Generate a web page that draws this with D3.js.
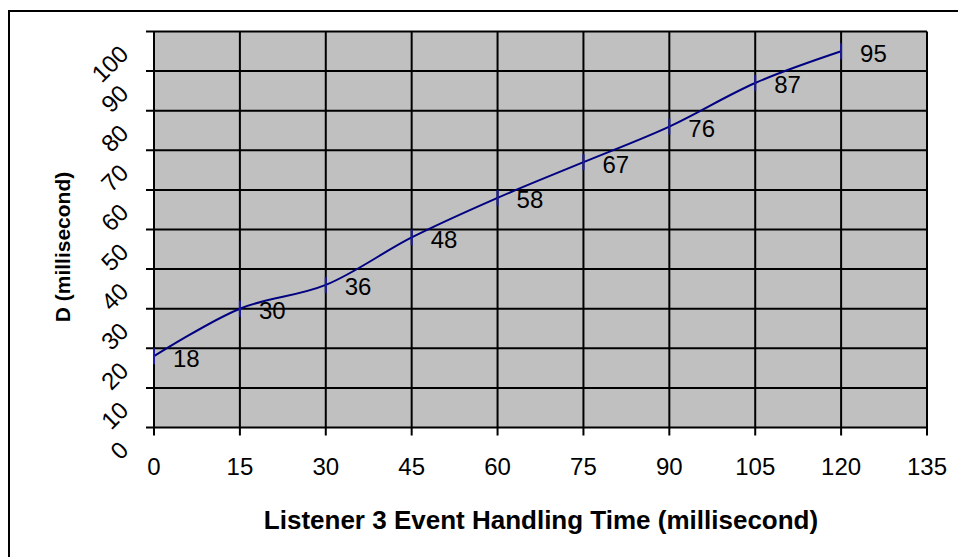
<!DOCTYPE html>
<html><head><meta charset="utf-8">
<script src="https://cdn.jsdelivr.net/npm/d3@7"></script>
<style>body{margin:0;background:#fff;}svg{display:block;font-family:"Liberation Sans",Arial,sans-serif;}</style>
</head><body>
<svg id="c" width="958" height="557"></svg>
<script>
const xValues = [0, 15, 30, 45, 60, 75, 90, 105, 120];
const yValues = [18, 30, 36, 48, 58, 67, 76, 87, 95];
const xTicks = [0, 15, 30, 45, 60, 75, 90, 105, 120, 135];
const yTicks = [0, 10, 20, 30, 40, 50, 60, 70, 80, 90, 100];
const xTitle = "Listener 3 Event Handling Time (millisecond)";
const yTitle = "D (millisecond)";

const svg = d3.select("#c");
const L = 154, R = 927, T = 31.5, B = 427.5;
const x = d3.scaleLinear().domain([0, 135]).range([L, R]);
const y = d3.scaleLinear().domain([0, 100]).range([B, T]);

// outer border
svg.append("rect").attr("x", 9).attr("y", 11).attr("width", 960).attr("height", 560)
  .attr("fill", "none").attr("stroke", "#000").attr("stroke-width", 2);

// plot area
svg.append("rect").attr("x", L).attr("y", T).attr("width", R - L).attr("height", B - T).attr("fill", "#c0c0c0");

// gridlines
svg.append("g").selectAll("line").data(yTicks).join("line")
  .attr("x1", L - 8).attr("x2", R).attr("y1", d => y(d)).attr("y2", d => y(d))
  .attr("stroke", "#000").attr("stroke-width", 2);
svg.append("g").selectAll("line").data(xTicks).join("line")
  .attr("x1", d => x(d)).attr("x2", d => x(d)).attr("y1", T).attr("y2", B + 8)
  .attr("stroke", "#000").attr("stroke-width", 2);

// x tick labels
svg.append("g").selectAll("text").data(xTicks).join("text")
  .attr("x", d => x(d)).attr("y", 466).attr("text-anchor", "middle").attr("dominant-baseline", "central")
  .attr("font-size", 24).text(d => d);

// y tick labels rotated
svg.append("g").selectAll("text").data(yTicks).join("text")
  .attr("text-anchor", "end").attr("dominant-baseline", "central")
  .attr("transform", d => `translate(124,${y(d) + 18}) rotate(-45)`)
  .attr("font-size", 24).text(d => d);

// titles
svg.append("text").attr("x", 541).attr("y", 520).attr("text-anchor", "middle").attr("dominant-baseline", "central")
  .attr("font-size", 26).attr("font-weight", "bold").text(xTitle);
svg.append("text").attr("transform", "translate(62,247) rotate(-90)").attr("text-anchor", "middle")
  .attr("dominant-baseline", "central").attr("font-size", 21).attr("font-weight", "bold").text(yTitle);

// line
const pts = xValues.map((v, i) => [v, yValues[i]]);
const line = d3.line().x(d => x(d[0])).y(d => y(d[1])).curve(d3.curveCatmullRom.alpha(0.5));
svg.append("path").attr("d", line(pts)).attr("fill", "none").attr("stroke", "#000080").attr("stroke-width", 2);

// markers (vertical dashes)
svg.append("g").selectAll("line").data(pts).join("line")
  .attr("x1", d => x(d[0])).attr("x2", d => x(d[0]))
  .attr("y1", d => y(d[1]) - 8).attr("y2", d => y(d[1]) + 8)
  .attr("stroke", "#1a1aa0").attr("stroke-width", 2);

// data labels
svg.append("g").selectAll("text").data(pts).join("text")
  .attr("x", d => x(d[0]) + 19).attr("y", d => y(d[1]) + 2)
  .attr("dominant-baseline", "central").attr("font-size", 24).text(d => d[1]);
</script>
</body></html>
